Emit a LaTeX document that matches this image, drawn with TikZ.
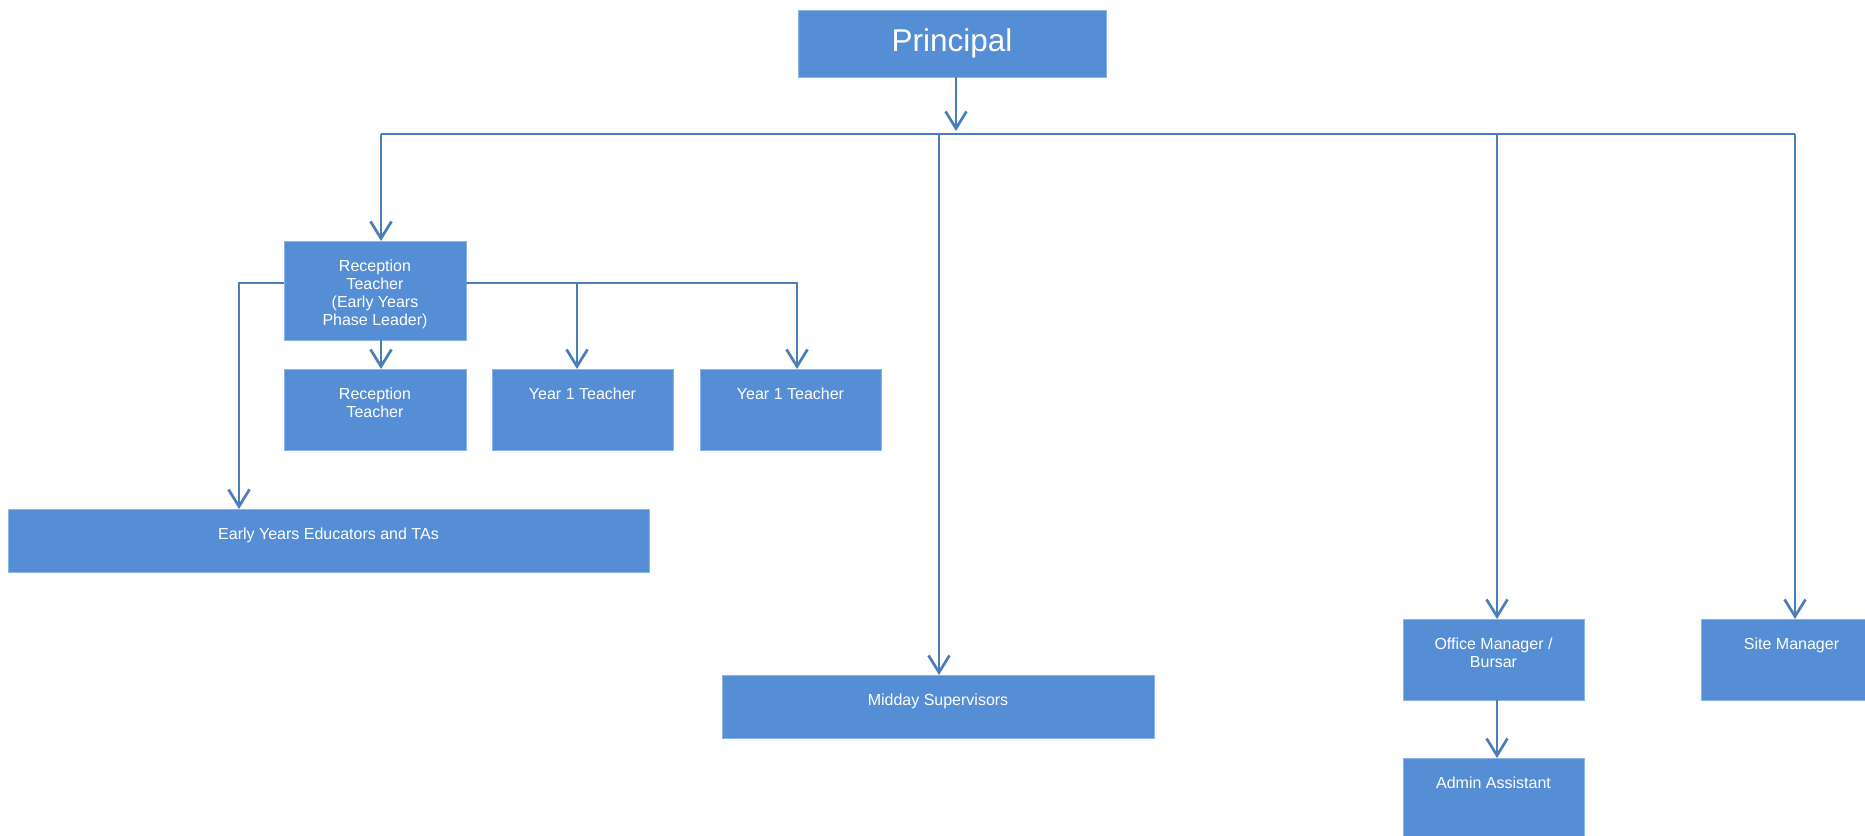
\documentclass[tikz,border=0pt]{standalone}
\usepackage{fontspec}
\setmainfont{Liberation Sans}
\usetikzlibrary{arrows.meta}
\definecolor{boxblue}{RGB}{85,142,213}
\definecolor{boxedge}{RGB}{140,180,230}
\definecolor{linkblue}{RGB}{74,126,187}
\newcommand{\bx}[3]{\parbox[c][#2][t]{#1}{\centering\rule{0pt}{30pt}#3}}
\tikzset{
  orgbox/.style={fill=boxblue, draw=boxedge, line width=0.8pt, inner sep=0pt, outer sep=0pt,
    text=white, anchor=north west, font=\fontsize{16}{18}\selectfont},
  link/.style={draw=linkblue, line width=2.7pt},
  arr/.style={link, -{Straight Barb[length=17pt,width=21pt]}}
}
\begin{document}
\begin{tikzpicture}[x=1pt,y=-1pt]
\useasboundingbox (0,0) rectangle (1865,835);
\clip (0,0) rectangle (1865,835);
% nodes
\node[orgbox, minimum width=308pt, minimum height=67pt, font=\fontsize{31.5}{36}\selectfont] (principal) at (798,10) {Principal};
\node[orgbox] (rtl) at (284,241) {\bx{182pt}{99pt}{Reception\\Teacher\\(Early Years\\Phase Leader)}};
\node[orgbox] (rt) at (284,369) {\bx{182pt}{81pt}{Reception\\Teacher}};
\node[orgbox] (y1a) at (492,369) {\bx{181pt}{81pt}{Year 1 Teacher}};
\node[orgbox] (y1b) at (700,369) {\bx{181pt}{81pt}{Year 1 Teacher}};
\node[orgbox] (eye) at (8,509) {\bx{641pt}{63pt}{Early Years Educators and TAs}};
\node[orgbox] (mid) at (722,675) {\bx{432pt}{63pt}{Midday Supervisors}};
\node[orgbox] (off) at (1403,619) {\bx{181pt}{81pt}{Office Manager /\\Bursar}};
\node[orgbox] (adm) at (1403,758) {\bx{181pt}{81pt}{Admin Assistant}};
\node[orgbox] (site) at (1701,619) {\bx{181pt}{81pt}{Site Manager}};
% bus coordinates
\coordinate (b0) at (956,134);
\coordinate (b1) at (381,134);
\coordinate (b2) at (939,134);
\coordinate (b3) at (1497,134);
\coordinate (b4) at (1795,134);
\coordinate (sL) at (239,283);
\coordinate (s2) at (577,283);
\coordinate (sR) at (797,283);
% connectors
\draw[arr, shorten >=3pt] (b0 |- principal.south) -- (b0);
\draw[link] (b1) -- (b4);
\draw[arr] (b1) -- (b1 |- rtl.north);
\draw[arr] (b2) -- (b2 |- mid.north);
\draw[arr] (b3) -- (b3 |- off.north);
\draw[arr] (b4) -- (b4 |- site.north);
\draw[arr] (sL -| rtl.west) -- (sL) -- (sL |- eye.north);
\draw[arr] (sR -| rtl.east) -- (sR) -- (sR |- y1b.north);
\draw[arr] (s2) -- (s2 |- y1a.north);
\draw[arr] (b1 |- rtl.south) -- (b1 |- rt.north);
\draw[arr] (b3 |- off.south) -- (b3 |- adm.north);
\end{tikzpicture}
\end{document}
